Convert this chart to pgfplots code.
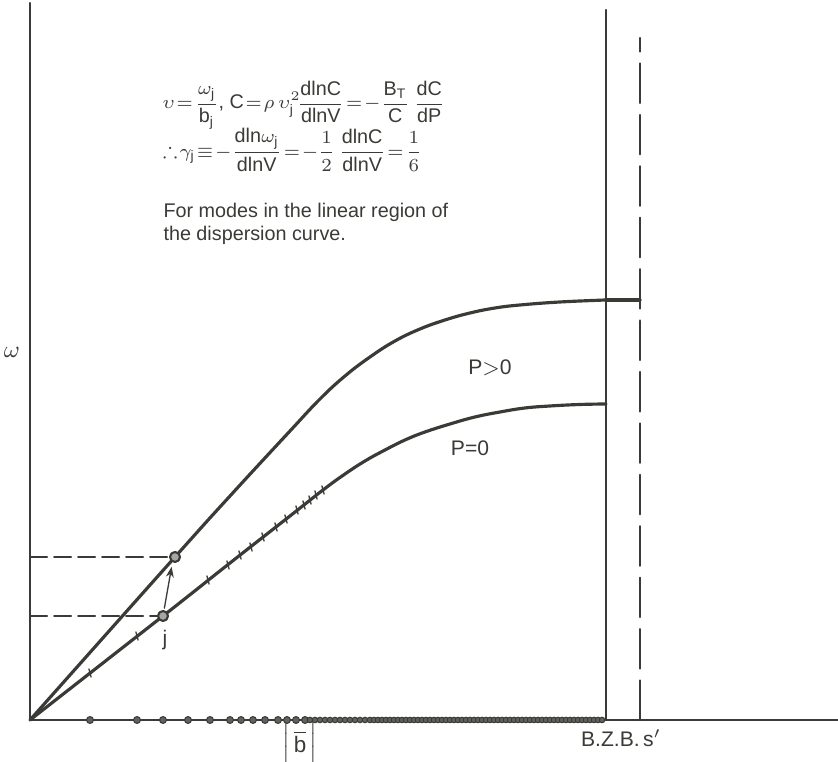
\documentclass[border=0pt]{standalone}
\usepackage{amsmath,amssymb}
\usepackage{pgfplots}
\pgfplotsset{compat=1.18}
\usepackage{fontspec}
\setmainfont{Liberation Sans}
\usetikzlibrary{arrows.meta}

\definecolor{ink}{HTML}{3A3A36}

% dispersion curves (x: wave vector, y: omega)
\pgfplotstableread{
x y
0 0
145 163
200 224
260 289
290 321
315 344
340 363
365 379
390 391
415 400
440 407
465 412
490 415
530 418
576 420
}\pplus
\pgfplotstableread{
x y
0 0
133 104
200 157
260 204
293 230
315 246
335 259
355 270
375 280
395 288
420 296
445 303
470 308
495 312
520 314
550 315.5
576 316
}\pzero

\begin{document}
\begin{tikzpicture}
\begin{axis}[
    width=11.17cm, height=10.157cm, scale only axis,
    xmin=-30, xmax=808, ymin=-42, ymax=720,
    axis lines=none, clip=false,
    every axis plot/.append style={line join=round, line cap=round},
]
  % axes and zone boundary
  \addplot[ink, line width=0.8pt] coordinates {(0,717) (0,0) (808,0)};
  \addplot[ink, line width=0.8pt] coordinates {(576,0) (576,710)};
  \addplot[ink, line width=0.8pt, dash pattern=on 15pt off 4.5pt] coordinates {(610,0) (610,682)};

  % curves
  \addplot[ink, line width=1.2pt, smooth, tension=0.7] table {\pplus};
  \addplot[ink, line width=1.2pt] coordinates {(576,420) (610,420)};
  \addplot[ink, line width=1.2pt, smooth, tension=0.7] table {\pzero};

  % tick marks on the P=0 branch
  \addplot[only marks, mark=|, mark size=1.6pt, mark options={ink, line width=0.5pt, rotate=15}]
    coordinates {(60,47) (107,84) (178,140) (198,155) (210,165) (221,173) (233,183)
      (246,193) (256,201) (267,210) (274,215) (280,220) (286,225) (293,230)};

  % sampled modes along the axis
  \addplot[only marks, mark=*, mark size=1.3pt, mark options={fill=ink!80, draw=ink}]
    coordinates {(60,0) (107,0) (133,0) (158,0) (180,0) (200,0) (211,0) (223,0) (235,0)
      (248,0) (257,0) (266,0) (275,0)};
  \addplot[only marks, mark=*, mark size=1.05pt, mark options={fill=ink!80, draw=ink}]
    coordinates {(280,0) (285,0) (290,0) (295,0) (300,0) (305,0) (310,0) (315,0) (320,0)
      (325,0) (330,0) (335,0) (340,0) (344,0) (348,0) (352,0) (356,0) (360,0) (364,0)
      (368,0) (372,0) (376,0) (380,0) (384,0) (388,0) (392,0) (396,0) (400,0) (404,0)
      (408,0) (412,0) (416,0) (420,0) (424,0) (428,0) (432,0) (436,0) (440,0) (444,0)
      (448,0) (452,0) (456,0) (460,0) (464,0) (468,0) (472,0) (476,0) (480,0) (484,0)
      (488,0) (492,0) (496,0) (500,0) (504,0) (508,0) (512,0) (516,0) (520,0) (524,0)
      (528,0) (532,0) (536,0) (540,0) (544,0) (548,0) (552,0) (556,0) (560,0) (564,0)
      (568,0) (572,0)};

  % projections of mode j
  \addplot[ink, line width=0.7pt, dash pattern=on 6.5pt off 2.6pt] coordinates {(0,163) (145,163)};
  \addplot[ink, line width=0.7pt, dash pattern=on 6.5pt off 2.6pt] coordinates {(0,104) (133,104)};
  \addplot[ink, line width=0.5pt, -{Stealth[length=4pt,width=3pt]}, shorten >=3pt, shorten <=3pt]
    coordinates {(133,104) (143,161)};
  \addplot[only marks, mark=*, mark size=1.9pt, mark options={fill=ink!45, draw=ink, line width=0.8pt}]
    coordinates {(145,163) (133,104)};

  % labels
  \node[ink, font=\fontsize{9}{10}\selectfont] at (axis cs:-18,368) {$\omega$};
  \node[ink, font=\fontsize{8}{9}\selectfont] at (axis cs:460,352) {P$>$0};
  \node[ink, font=\fontsize{8}{9}\selectfont] at (axis cs:440,272) {P=0};
  \node[ink, font=\fontsize{8}{9}\selectfont] at (axis cs:135,80) {j};
  \node[ink, font=\fontsize{8.5}{9}\selectfont] at (axis cs:270,-27) {$\bigg\vert\,\overline{\mathrm{b}}\,\bigg\vert$};
  \node[ink, font=\fontsize{8}{9}\selectfont] at (axis cs:591,-18) {B.Z.B.\,s$'$};

  \node[ink, anchor=west, inner sep=0pt, font=\fontsize{7.5}{9}\selectfont] at (axis cs:132,615)
    {\thickmuskip=1.5mu\medmuskip=1mu$\upsilon=\dfrac{\omega_{\mathrm j}}{\mathrm{b_j}}$, $\mathrm{C}=\rho\,\upsilon^2_{\mathrm j}\!\dfrac{\mathrm{dlnC}}{\mathrm{dlnV}}=-\dfrac{\mathrm{B_T}}{\mathrm{C}}\,\dfrac{\mathrm{dC}}{\mathrm{dP}}$};
  \node[ink, anchor=west, inner sep=0pt, font=\fontsize{7.5}{9}\selectfont] at (axis cs:132,570)
    {\thickmuskip=1.5mu\medmuskip=1mu$\therefore\gamma_{\mathrm j}\equiv-\dfrac{\mathrm{dln}\omega_{\mathrm j}}{\mathrm{dlnV}}=-\dfrac{1}{2}\,\dfrac{\mathrm{dlnC}}{\mathrm{dlnV}}=\dfrac{1}{6}$};
  \node[ink, anchor=west, inner sep=0pt, align=left, font=\fontsize{7.5}{9}\selectfont] at (axis cs:133,496)
    {For modes in the linear region of\\the dispersion curve.};
\end{axis}
\pgfresetboundingbox
\path (current axis.south west) rectangle (current axis.north east);
\end{tikzpicture}
\end{document}
